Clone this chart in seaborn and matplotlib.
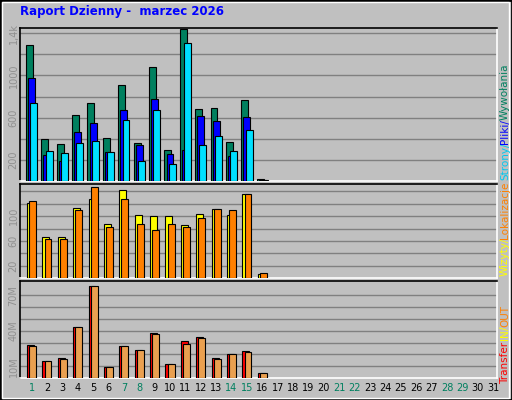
"""
Webalizer-style daily report, marzec 2026.
"""

import numpy as np
import seaborn as sns
import matplotlib as mpl
from matplotlib import pyplot as plt
from matplotlib.patches import Rectangle

sns.set_theme(style='white', font='sans-serif')
plt.rcParams['font.family'] = ['DejaVu Sans']

days = np.arange(1, 17)
hits = [1290, 396, 349, 624, 739, 406, 910, 358, 1081, 292, 1442, 682, 691, 368, 767, 19]
files = [976, 247, 190, 463, 548, 273, 672, 339, 777, 254, 295, 615, 567, 238, 605, 10]
pages = [739, 282, 263, 358, 377, 273, 577, 187, 672, 159, 1309, 339, 425, 282, 482, 5]
visits = [121, 67, 67, 113, 127, 88, 143, 102, 100, 100, 85, 103, 111, 102, 136, 6]
sites = [125, 63, 63, 110, 147, 83, 127, 88, 78, 87, 83, 97, 112, 110, 136, 8]
kb_in = [28, 14, 17, 43, 78, 9, 27, 24, 38, 12, 31, 35, 17, 20, 23, 4]
kb_out = [27, 14, 16, 43, 78, 9, 27, 24, 37, 12, 29, 34, 16, 20, 22, 4]
weekend = [1, 7, 8, 14, 15, 21, 22, 28, 29]

bg = '#C0C0C0'
fig = plt.figure(figsize=(5.12, 4.0), dpi=100, facecolor=bg)
fig.patches.append(Rectangle((0, 0), 1, 1, transform=fig.transFigure,
                             fill=False, edgecolor='black', linewidth=2))
fig.patches.append(Rectangle((0.004, 0.005), 0.99, 0.99, transform=fig.transFigure,
                             fill=False, edgecolor='white', linewidth=1))

W, H = 512, 400
def axes_px(x0, y0, x1, y1):
    return fig.add_axes([x0 / W, 1 - y1 / H, (x1 - x0) / W, (y1 - y0) / H])

ax1 = axes_px(20, 28, 497, 181)
ax2 = axes_px(20, 184, 497, 278)
ax3 = axes_px(20, 281, 497, 378)

def style(ax, ymax, grid, labels):
    ax.set_facecolor(bg)
    ax.set_xlim(0.25, 31.25)
    ax.set_ylim(0, ymax)
    ax.set_xticks([])
    ax.set_yticks(grid)
    ax.set_yticklabels([labels.get(g, '') for g in grid], rotation=90,
                       va='center', color='#909090', fontsize=7)
    ax.tick_params(axis='y', length=0, pad=1)
    for g in grid:
        ax.axhline(g, color='#808080', linewidth=1, zorder=0)
    for side in ['left', 'top']:
        ax.spines[side].set_color('black')
    for side in ['right', 'bottom']:
        ax.spines[side].set_color('white')
    for s in ax.spines.values():
        s.set_linewidth(1.2)

def bars(ax, values, offset, color):
    ax.bar(days + offset, values, width=0.45, color=color, edgecolor='black',
           linewidth=0.8, align='center', zorder=3)

style(ax1, 1450, [200, 400, 600, 800, 1000, 1200, 1400],
      {200: '200', 600: '600', 1000: '1000', 1400: '1,4k'})
bars(ax1, hits, -0.14, '#00805F')
bars(ax1, files, 0.0, '#0000FF')
bars(ax1, pages, 0.14, '#00E0FF')

style(ax2, 152, [20, 40, 60, 80, 100, 120, 140], {20: '20', 60: '60', 100: '100'})
bars(ax2, visits, -0.07, '#FFFF00')
bars(ax2, sites, 0.07, '#FF8000')

style(ax3, 82, [10, 20, 30, 40, 50, 60, 70], {10: '10M', 40: '40M', 70: '70M'})
bars(ax3, kb_in, -0.07, '#FF0000')
bars(ax3, kb_out, 0.07, '#EAA050')

for d in range(1, 32):
    fig.text((20 + (d - 0.25) * 477 / 31) / W, 1 - 388 / H, str(d),
             ha='center', va='center', fontsize=7,
             color='#00805F' if d in weekend else 'black')

fig.text(20 / W, 1 - 12 / H, 'Raport Dzienny -  marzec 2026', color='#0000FF',
         fontsize=8.5, fontweight='bold', va='center', ha='left')

renderer = fig.canvas.get_renderer()

def side_label(parts, y_bottom):
    # stack rotated coloured pieces upward from the bottom pixel row
    y = y_bottom
    for t, c in parts:
        txt = fig.text(505 / W, 1 - y / H, t, color=c, rotation=90,
                       fontsize=7.5, ha='center', va='bottom')
        y -= txt.get_window_extent(renderer).height - 1

side_label([('Strony/', '#00C8F0'), ('Pliki/', '#0000FF'),
            ('Wywołania', '#00805F')], 180)
side_label([('Wizyty/', '#FFFF00'), ('Lokalizacje', '#FF8000')], 276)
side_label([('Transfer ', '#FF0000'), ('IN', '#FFFF00'), ('/', '#FFFF00'),
            ('OUT', '#FF8000')], 384)

plt.savefig('out.png', dpi=100, facecolor=bg)
